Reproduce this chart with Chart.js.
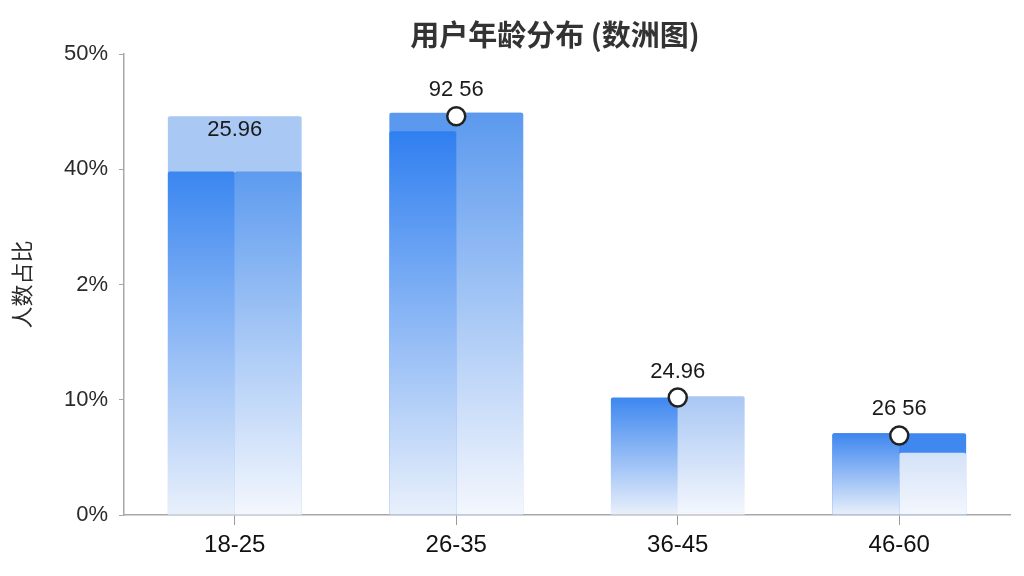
<!DOCTYPE html>
<html>
<head>
<meta charset="utf-8">
<script src="https://cdn.jsdelivr.net/npm/chart.js@4/dist/chart.umd.min.js"></script>
<style>
  html, body { margin: 0; padding: 0; background: #fff; }
  #wrap { width: 1024px; height: 576px; }
</style>
</head>
<body>
<div id="wrap"><canvas id="ageChart"></canvas></div>
<script>
// data (values in axis units, ticks spaced evenly)
const categories = ['18-25', '26-35', '36-45', '46-60'];
const leftValues = [29.8, 33.3, 10.2, 7.1];
const rightValues = [29.8, 34.9, 10.3, 5.4];
const topValues = [34.6, 34.9, null, 7.1];
const pointValues = [null, 34.6, 10.2, 6.9];
const labelTexts = ['25.96', '92 56', '24.96', '26 56'];
const labelAnchors = [34.6, 34.6, 10.2, 6.9];
const yTickLabels = ['0%', '10%', '2%', '40%', '50%'];
const chartTitle = '用户年龄分布 (数洲图)';

// colours
const leftTop = ['#3a86f0', '#2f7ff0', '#3d87f0', '#3d86ef'];
const rightTop = ['#5d9bef', '#5b99ee', '#a9c7f4', '#d3e2f8'];
const overlayColors = ['#a9c8f4', '#5b99ee', '#ffffff', '#3f88f0'];
const labelOffsets = [14, -26, -26, -27];

Chart.defaults.font.family = '"Liberation Sans", "Noto Sans CJK SC", sans-serif';

// vertical gradient running over the bar's own height
function barGradient(c, topColor, bottomColor) {
    const chart = c.chart;
    if (!chart.chartArea || c.raw == null) return topColor;
    const y = chart.scales.y;
    const y0 = y.getPixelForValue(c.raw);
    const y1 = y.getPixelForValue(0);
    const g = chart.ctx.createLinearGradient(0, y0, 0, y1);
    g.addColorStop(0, topColor);
    g.addColorStop(1, bottomColor);
    return g;
}

// title sits a bit right of the canvas centre in the original
const titleText = {
    id: 'titleText',
    afterDraw(chart) {
        const ctx = chart.ctx;
        ctx.save();
        ctx.font = 'bold 29px "Noto Sans CJK SC", sans-serif';
        ctx.textAlign = 'center';
        ctx.textBaseline = 'middle';
        ctx.fillStyle = '#333';
        ctx.fillText(chartTitle, 555, 35);
        ctx.restore();
    }
};

const valueLabels = {
    id: 'valueLabels',
    afterDatasetsDraw(chart) {
        const ctx = chart.ctx;
        const xs = chart.scales.x, ys = chart.scales.y;
        ctx.save();
        ctx.font = '22px "Liberation Sans", sans-serif';
        ctx.fillStyle = '#1a1a1a';
        ctx.textAlign = 'center';
        ctx.textBaseline = 'middle';
        categories.forEach((cat, i) => {
            const x = xs.getPixelForValue(i);
            const y = ys.getPixelForValue(labelAnchors[i]) + labelOffsets[i];
            ctx.fillText(labelTexts[i], x, y);
        });
        ctx.restore();
    }
};

new Chart(document.getElementById('ageChart'), {
    data: {
        labels: categories,
        datasets: [
            {
                type: 'line',
                data: pointValues,
                showLine: false,
                pointRadius: 9,
                pointBackgroundColor: '#ffffff',
                pointBorderColor: '#222',
                pointBorderWidth: 2.5,
                order: 0
            },
            {
                type: 'bar',
                data: leftValues,
                backgroundColor: c => barGradient(c, leftTop[c.dataIndex], '#e9f0fb'),
                categoryPercentage: 0.604,
                barPercentage: 1,
                borderRadius: 2,
                order: 1
            },
            {
                type: 'bar',
                data: rightValues,
                backgroundColor: c => barGradient(c, rightTop[c.dataIndex], '#f4f7fd'),
                categoryPercentage: 0.604,
                barPercentage: 1,
                borderRadius: 2,
                order: 1
            },
            {
                type: 'bar',
                data: topValues,
                backgroundColor: overlayColors,
                grouped: false,
                categoryPercentage: 0.604,
                barPercentage: 1,
                borderRadius: 2,
                order: 2
            }
        ]
    },
    options: {
        responsive: true,
        maintainAspectRatio: false,
        animation: false,
        layout: { padding: { left: 0, right: 14, top: 54, bottom: 0 } },
        plugins: {
            legend: { display: false },
            tooltip: { enabled: false },
            title: { display: false }
        },
        scales: {
            x: {
                grid: { display: true, drawOnChartArea: false, offset: false, tickLength: 10, color: '#9a9a9a' },
                border: { color: '#a8a8a8', width: 1.5 },
                ticks: { color: '#111', font: { size: 24 }, padding: 6 },
                afterFit: s => { s.height = 61; }
            },
            y: {
                min: 0,
                max: 40,
                ticks: {
                    stepSize: 10,
                    color: '#2a2a2a',
                    font: { size: 22 },
                    padding: 11,
                    callback: (v, i) => yTickLabels[i]
                },
                grid: { display: true, drawOnChartArea: false, tickLength: 5, color: '#a8a8a8' },
                border: { color: '#a8a8a8', width: 1.5 },
                title: {
                    display: true,
                    text: '人数占比',
                    color: '#2a2a2a',
                    font: { size: 22, family: '"Noto Sans CJK SC", sans-serif' },
                    padding: { top: 8, bottom: 10 }
                },
                afterFit: s => { s.width = 124; }
            }
        }
    },
    plugins: [valueLabels, titleText]
});
</script>
</body>
</html>
